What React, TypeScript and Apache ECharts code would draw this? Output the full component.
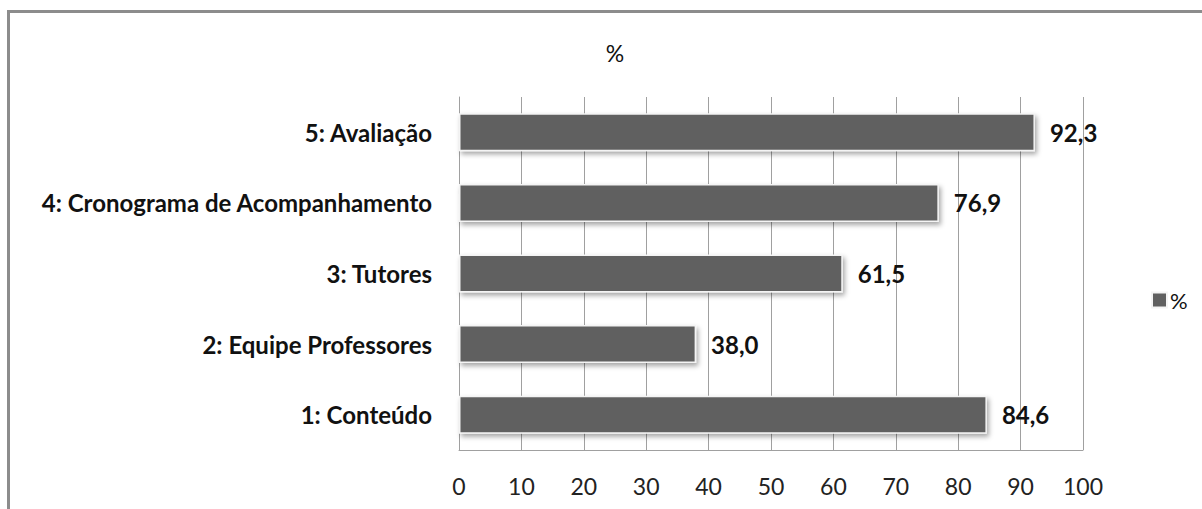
import React, { useEffect, useRef } from "react";
import * as echarts from "echarts";

const categories = [
  "1: Conteúdo",
  "2: Equipe Professores",
  "3: Tutores",
  "4: Cronograma de Acompanhamento",
  "5: Avaliação",
];
const values = [84.6, 38.0, 61.5, 76.9, 92.3];
const seriesName = "%";
const titleText = "%";

export default function App() {
  const ref = useRef<HTMLDivElement>(null);
  useEffect(() => {
    if (!ref.current) return;
    const chart = echarts.init(ref.current, null, { renderer: "svg" });
    const font = "Lato, 'Open Sans', sans-serif";
    chart.setOption({
      animation: false,
      backgroundColor: "#ffffff",
      title: {
        text: titleText,
        left: 610,
        top: 36,
        textAlign: "center",
        textStyle: { fontFamily: font, fontSize: 23, fontWeight: "normal", color: "#111" },
      },
      legend: {
        data: [seriesName],
        left: 1146,
        top: 284,
        itemWidth: 15,
        itemHeight: 15,
        itemGap: 4,
        icon: "rect",
        textStyle: { fontFamily: font, fontSize: 22, color: "#111", padding: [0, 0, 0, -2] },
      },
      grid: { left: 459, right: 119, top: 97, bottom: 59, containLabel: false },
      xAxis: {
        type: "value",
        min: 0,
        max: 100,
        interval: 10,
        axisLine: { show: true, lineStyle: { color: "#a0a0a0", width: 1 } },
        axisTick: { show: false },
        splitLine: { show: true, lineStyle: { color: "#a0a0a0", width: 1 } },
        axisLabel: { fontFamily: font, fontSize: 23, color: "#222", margin: 24 },
      },
      yAxis: {
        type: "category",
        data: categories,
        axisLine: { show: true, lineStyle: { color: "#a0a0a0", width: 1 } },
        axisTick: { show: false },
        axisLabel: { fontFamily: font, fontSize: 24, fontWeight: "bold", color: "#111", margin: 27 },
      },
      series: [
        {
          name: seriesName,
          type: "bar",
          data: values,
          barWidth: 38,
          itemStyle: {
            color: "#606060",
            borderColor: "#f4f4f4",
            borderWidth: 1.5,
            shadowBlur: 5,
            shadowColor: "rgba(0,0,0,0.35)",
            shadowOffsetX: 2,
            shadowOffsetY: 3,
          },
          label: {
            show: true,
            position: "right",
            distance: 15,
            fontFamily: font,
            fontSize: 24,
            fontWeight: "bold",
            color: "#111",
            formatter: (p: any) => Number(p.value).toFixed(1).replace(".", ","),
          },
        },
      ],
      graphic: [
        {
          type: "rect",
          shape: { x: 8.5, y: 11.5, width: 1400, height: 700 },
          style: { fill: "none", stroke: "#8c8c8c", lineWidth: 3 },
          silent: true,
        },
      ],
    });
    return () => chart.dispose();
  }, []);
  return (
    <div
      ref={ref}
      style={{ position: "absolute", left: 0, top: 0, width: 1202, height: 509 }}
    />
  );
}
